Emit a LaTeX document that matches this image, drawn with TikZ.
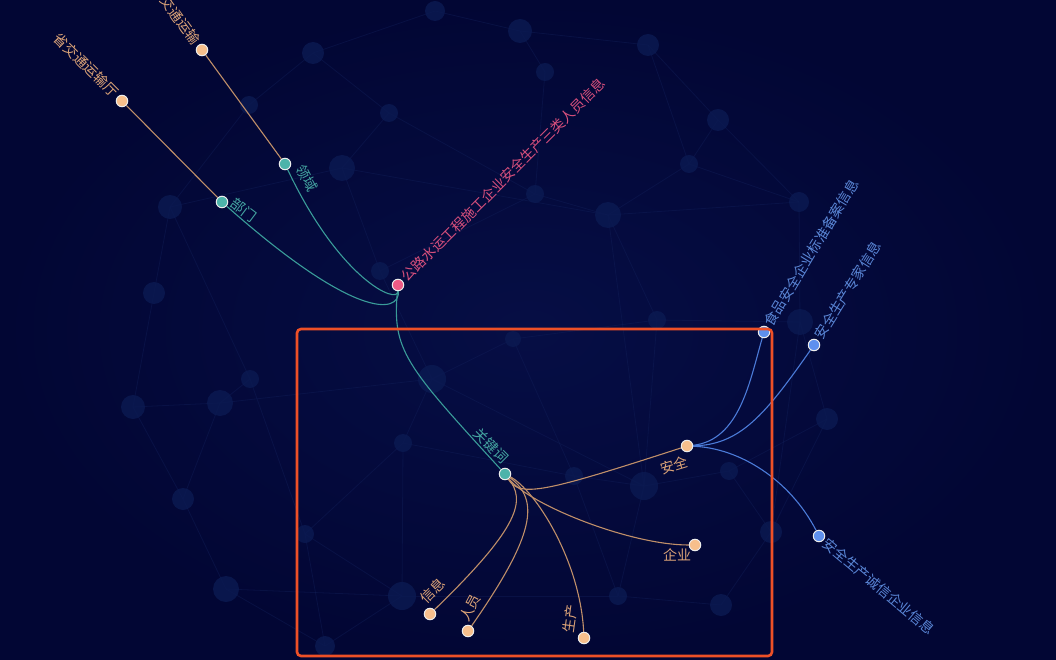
\documentclass[tikz,border=0pt]{standalone}
\usepackage{fontspec}
\newfontfamily\cjk{Noto Sans CJK SC}
\pgfdeclarelayer{bgl}
\pgfdeclarelayer{edgel}
\pgfsetlayers{bgl,edgel,main}
\definecolor{bgin}{HTML}{060E45}
\definecolor{bgout}{HTML}{020634}
\definecolor{dot}{HTML}{0B1A52}
\definecolor{mesh}{HTML}{12205A}
\definecolor{orfill}{HTML}{F7BF8C}
\definecolor{orline}{HTML}{C08F69}
\definecolor{ortext}{HTML}{DDA478}
\definecolor{tefill}{HTML}{4DB3AA}
\definecolor{teline}{HTML}{3A9C99}
\definecolor{tetext}{HTML}{45A7A2}
\definecolor{pkfill}{HTML}{EE5A85}
\definecolor{pktext}{HTML}{D9507D}
\definecolor{blfill}{HTML}{5E90EE}
\definecolor{blline}{HTML}{4B7BD8}
\definecolor{bltext}{HTML}{5A86D6}
\definecolor{frame}{HTML}{EE5027}
\tikzset{
  nd/.style={circle, draw=white!85!gray, line width=1pt, minimum size=11.5pt, inner sep=0pt},
  ornode/.style={nd, fill=orfill},
  tenode/.style={nd, fill=tefill},
  pknode/.style={nd, fill=pkfill},
  blnode/.style={nd, fill=blfill},
  lbl/.style={font=\cjk\fontsize{14}{15}\selectfont, inner sep=0pt},
  orlbl/.style={lbl, text=ortext},
  telbl/.style={lbl, text=tetext},
  pklbl/.style={lbl, text=pktext},
  bllbl/.style={lbl, text=bltext},
  oredge/.style={draw=orline, line width=1.1pt},
  teedge/.style={draw=teline, line width=1.1pt},
  bledge/.style={draw=blline, line width=1.1pt},
  meshline/.style={draw=mesh, line width=0.8pt, opacity=0.4},
}
\begin{document}
\begin{tikzpicture}[x=1pt,y=-1pt]
\useasboundingbox (0,0) rectangle (1056,660);
\begin{pgfonlayer}{bgl}
\shade[inner color=bgin, outer color=bgout] (0,0) rectangle (1056,660);
\foreach \n/\x/\y in {1/435/11,2/520/31,3/648/45,4/313/53,5/545/72,6/249/105,7/389/113,8/718/120,9/689/164,10/342/168,11/170/207,12/535/194,13/608/215,14/799/202,15/154/293,16/380/271,17/657/320,18/800/322,19/513/339,20/432/379,21/250/379,22/220/403,23/133/407,24/403/443,25/827/419,26/574/476,27/644/486,28/729/471,29/183/499,30/305/534,31/771/532,32/226/589,33/402/596,34/618/596,35/721/605,36/325/646}
  \coordinate (c\n) at (\x,\y);
\foreach \a/\b in {4/1,1/2,2/3,2/5,4/6,4/7,6/11,7/10,5/12,10/13,12/13,3/8,8/9,9/13,8/14,13/14,11/15,15/23,10/16,16/20,13/17,17/19,19/20,14/18,18/25,17/18,20/22,21/22,22/23,20/24,24/33,23/29,29/32,32/36,32/33,30/33,24/30,20/27,27/26,27/28,28/25,25/31,31/35,34/35,33/34,27/34,13/27,18/31,36/33,26/19,11/21,21/30,16/12,7/12,9/14,26/34,28/31,22/29,30/36,3/9,10/11,17/27,24/26}
  \draw[meshline] (c\a) -- (c\b);
\foreach \n/\r in {1/10,2/12,3/11,4/11,5/9,6/9,7/9,8/11,9/9,10/13,11/12,12/9,13/13,14/10,15/11,16/9,17/9,18/13,19/8,20/14,21/9,22/13,23/12,24/9,25/11,26/9,27/14,28/9,29/11,30/9,31/11,32/13,33/14,34/9,35/11,36/10}
  \fill[dot, opacity=0.8] (c\n) circle (\r pt);
\end{pgfonlayer}

% nodes
\node[ornode] (A) at (202,50) {};
\node[ornode] (B) at (122,101) {};
\node[tenode] (C) at (285,164) {};
\node[tenode] (D) at (222,202) {};
\node[pknode] (P) at (398,285) {};
\node[tenode] (K) at (505,474) {};
\node[ornode] (S) at (687,446) {};
\node[ornode] (E) at (695,545) {};
\node[ornode] (G) at (584,638) {};
\node[ornode] (R) at (468,631) {};
\node[ornode] (I) at (430,614) {};
\node[blnode] (F) at (764,332) {};
\node[blnode] (X) at (814,345) {};
\node[blnode] (H) at (819,536) {};

% labels
\node[orlbl, anchor=east, rotate=-54] (lA) at (197,43) {交通运输};
\node[orlbl, anchor=east, rotate=-45] (lB) at (116,95) {省交通运输厅};
\node[telbl, rotate=-62] (lC) at (307,178) {领域};
\node[telbl, rotate=-37] (lD) at (244,210) {部门};
\node[pklbl, anchor=west, rotate=45] (lP) at (404,279) {公路水运工程施工企业安全生产三类人员信息};
\node[telbl, rotate=-45] (lK) at (491,446) {关键词};
\node[orlbl, rotate=17] (lS) at (674,465) {安全};
\node[orlbl] (lE) at (677,555) {企业};
\node[orlbl, rotate=82] (lG) at (570,619) {生产};
\node[orlbl, rotate=62] (lR) at (470,608) {人员};
\node[orlbl, rotate=45] (lI) at (433,591) {信息};
\node[bllbl, anchor=west, rotate=59] (lF) at (768,325) {食品安全企业标准备案信息};
\node[bllbl, anchor=west, rotate=58] (lX) at (818,338) {安全生产专家信息};
\node[bllbl, anchor=west, rotate=-40] (lH) at (825,541) {安全生产诚信企业信息};

% frame
\node[draw=frame, line width=2.6pt, rounded corners=4pt, minimum width=475pt, minimum height=327pt, inner sep=0pt] (box) at (534.5,492.5) {};

\begin{pgfonlayer}{edgel}
\draw[oredge] (A) -- (C);
\draw[oredge] (B) -- (D);
\draw[teedge] (C) .. controls (340,280) and (398,305) .. (P);
\draw[teedge] (D) .. controls (355,320) and (400,314) .. (P);
\draw[teedge] (P) .. controls (392,350) and (405,365) .. (K);
\draw[oredge] (K) .. controls (520,498) and (545,492) .. (S);
\draw[oredge] (K) .. controls (530,505) and (630,545) .. (E);
\draw[oredge] (K) .. controls (535,490) and (580,560) .. (G);
\draw[oredge] (K) .. controls (540,500) and (535,535) .. (R);
\draw[oredge] (K) .. controls (525,500) and (522,525) .. (I);
\draw[bledge] (S) .. controls (740,440) and (750,380) .. (F);
\draw[bledge] (S) .. controls (740,445) and (765,415) .. (X);
\draw[bledge] (S) .. controls (740,448) and (790,480) .. (H);
\end{pgfonlayer}
\end{tikzpicture}
\end{document}
